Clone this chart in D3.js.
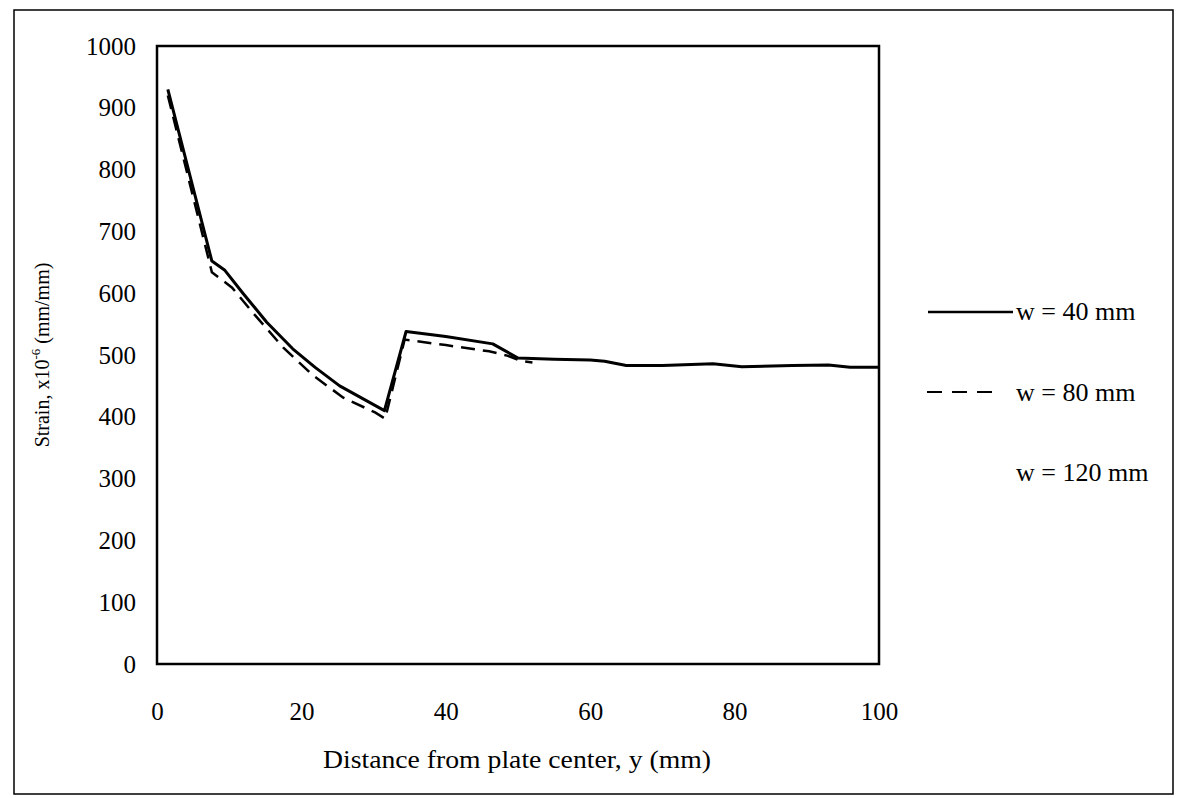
<!DOCTYPE html>
<html><head><meta charset="utf-8">
<script src="https://cdn.jsdelivr.net/npm/d3@7"></script>
<style>body{margin:0;background:#fff}svg{display:block}text{font-family:"Liberation Serif","Times New Roman",serif;fill:#000}</style>
</head><body><svg id="c" width="1178" height="798"></svg>
<script>
const xTicks = [0, 20, 40, 60, 80, 100];
const yTicks = [0, 100, 200, 300, 400, 500, 600, 700, 800, 900, 1000];
const seriesNames = ["w = 40 mm", "w = 80 mm", "w = 120 mm"];
const w40x = [1.5, 7.6, 9.4, 11.9, 15.2, 18.8, 21.9, 25.3, 31.5, 34.5, 40, 46.5, 50, 55, 60, 62, 65, 70, 77, 81, 88, 93, 96, 100];
const w40y = [930, 652, 637, 600, 553, 510, 480, 450, 410, 538, 530, 518, 495, 493, 492, 490, 483, 483, 486, 481, 483, 484, 480, 480];
const w80x = [1.5, 7.6, 10.4, 13.6, 17.5, 21.6, 25.8, 30.2, 31.6, 34.3, 40, 46, 48.5, 50.5, 52];
const w80y = [920, 634, 609, 564, 512, 467, 431, 407, 397, 525, 516, 506, 499, 490, 488];

const svg = d3.select("#c");
const x = d3.scaleLinear().domain([0, 100]).range([157, 879]);
const y = d3.scaleLinear().domain([0, 1000]).range([664, 46]);

// outer frame
svg.append("rect").attr("x", 14).attr("y", 10).attr("width", 1159).attr("height", 784)
  .attr("fill", "none").attr("stroke", "#000").attr("stroke-width", 1.5);

// plot box
svg.append("rect").attr("x", x(0)).attr("y", y(1000)).attr("width", x(100) - x(0)).attr("height", y(0) - y(1000))
  .attr("fill", "none").attr("stroke", "#000").attr("stroke-width", 2.5);

// axes (labels only)
const xa = svg.append("g").attr("transform", `translate(0,${y(0)})`)
  .call(d3.axisBottom(x).tickValues(xTicks).tickSize(0).tickPadding(38).tickFormat(d3.format("d")));
xa.select(".domain").remove();
xa.selectAll("text").attr("font-size", 25).attr("font-family", '"Liberation Serif",serif');

const ya = svg.append("g").attr("transform", `translate(${x(0)},0)`)
  .call(d3.axisLeft(y).tickValues(yTicks).tickSize(0).tickPadding(21).tickFormat(d3.format("d")));
ya.select(".domain").remove();
ya.selectAll("text").attr("font-size", 25).attr("font-family", '"Liberation Serif",serif');

// axis titles
svg.append("text").attr("x", 517).attr("y", 768).attr("text-anchor", "middle").attr("font-size", 25)
  .attr("textLength", 388).attr("lengthAdjust", "spacingAndGlyphs")
  .text("Distance from plate center, y (mm)");
const yt = svg.append("text").attr("transform", "translate(49,355) rotate(-90)").attr("text-anchor", "middle").attr("font-size", 20);
yt.append("tspan").text("Strain, x10");
yt.append("tspan").attr("dy", -9).attr("font-size", 13).text("-6");
yt.append("tspan").attr("dy", 9).text(" (mm/mm)");

// lines
const line = d3.line().x(d => x(d[0])).y(d => y(d[1]));
const d40 = w40x.map((v, i) => [v, w40y[i]]);
const d80 = w80x.map((v, i) => [v, w80y[i]]);
svg.append("path").datum(d80).attr("d", line).attr("fill", "none").attr("stroke", "#000")
  .attr("stroke-width", 2.5).attr("stroke-dasharray", "14,8");
svg.append("path").datum(d40).attr("d", line).attr("fill", "none").attr("stroke", "#000")
  .attr("stroke-width", 3).attr("stroke-linejoin", "round");

// legend
const lg = svg.append("g");
const legY = [320, 401, 481];
lg.append("line").attr("x1", 928).attr("x2", 1013).attr("y1", 312).attr("y2", 312).attr("stroke", "#000").attr("stroke-width", 2.5);
lg.append("line").attr("x1", 927).attr("x2", 998).attr("y1", 392).attr("y2", 392).attr("stroke", "#000").attr("stroke-width", 2).attr("stroke-dasharray", "15,10");
seriesNames.forEach((n, i) => {
  lg.append("text").attr("x", 1016).attr("y", legY[i]).attr("font-size", 26).text(n);
});
</script></body></html>
